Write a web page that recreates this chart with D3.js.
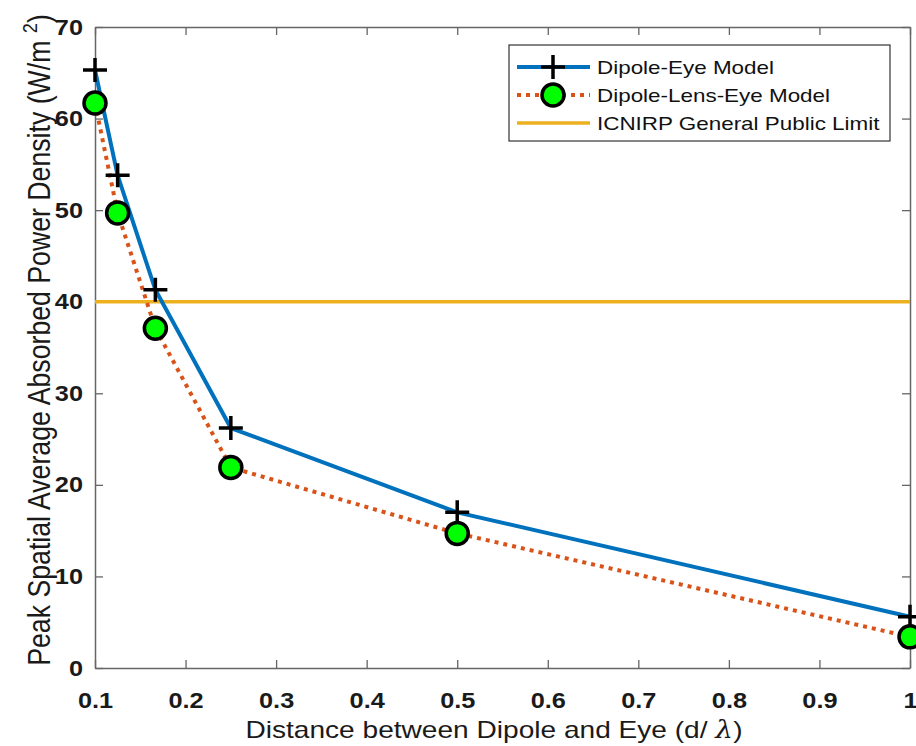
<!DOCTYPE html>
<html>
<head>
<meta charset="utf-8">
<script src="https://cdn.jsdelivr.net/npm/d3@7"></script>
<style>
  body { margin: 0; background: #fff; }
  svg { font-family: Arial, "Liberation Sans", sans-serif; }
</style>
</head>
<body>
<svg id="chart"></svg>
<script>
// Data
const distances = [0.1, 0.125, 1 / 6, 0.25, 0.5, 1];
const dipoleEye = [65.3, 53.8, 41.3, 26.2, 17.0, 5.6];
const dipoleLensEye = [61.7, 49.7, 37.1, 21.9, 14.7, 3.4];
const icnirpLimit = 40;
const xTicks = [0.1, 0.2, 0.3, 0.4, 0.5, 0.6, 0.7, 0.8, 0.9, 1];
const yTicks = [0, 10, 20, 30, 40, 50, 60, 70];
const legendLabels = ['Dipole-Eye Model', 'Dipole-Lens-Eye Model', 'ICNIRP General Public Limit'];

const width = 916;
const height = 746;
const margin = { top: 27, right: 6, bottom: 78, left: 95 };

// the original picture is a bit wider than tall, so text looks stretched
const stretch = 1.22;

const svg = d3.select('#chart')
  .attr('width', width)
  .attr('height', height);

const x = d3.scaleLinear().domain([0.1, 1]).range([margin.left, width - margin.right]);
const y = d3.scaleLinear().domain([0, 70]).range([height - margin.bottom, margin.top]);

const axisColor = '#666';
const tickLen = 8;

function widen(sel, k) {
  sel.each(function () {
    const w = this.getComputedTextLength();
    d3.select(this).attr('textLength', w * k).attr('lengthAdjust', 'spacingAndGlyphs');
  });
}

// Axes (ticks inward, box all around)
const xAxis = d3.axisBottom(x).tickValues(xTicks).tickSizeInner(-tickLen).tickSizeOuter(0)
  .tickFormat(d => d === 1 ? '1' : d3.format('.1f')(d));
const yAxis = d3.axisLeft(y).tickValues(yTicks).tickSizeInner(-tickLen).tickSizeOuter(0);

const gx = svg.append('g')
  .attr('transform', `translate(0,${y(0)})`)
  .call(xAxis);
const gy = svg.append('g')
  .attr('transform', `translate(${x(0.1)},0)`)
  .call(yAxis);
svg.append('g')
  .attr('transform', `translate(0,${y(70)})`)
  .call(d3.axisTop(x).tickValues(xTicks).tickSizeInner(-tickLen).tickSizeOuter(0).tickFormat(''));
svg.append('g')
  .attr('transform', `translate(${x(1)},0)`)
  .call(d3.axisRight(y).tickValues(yTicks).tickSizeInner(-tickLen).tickSizeOuter(0).tickFormat(''));

svg.selectAll('.domain').attr('stroke', axisColor).attr('stroke-width', 1.5);
svg.selectAll('.tick line').attr('stroke', axisColor).attr('stroke-width', 1.3);

gx.selectAll('text')
  .attr('y', 40)
  .attr('dy', 0)
  .style('font-size', '22px')
  .style('font-weight', 'bold')
  .attr('fill', '#1a1a1a')
  .call(widen, 1.15);
gy.selectAll('text')
  .attr('x', -12)
  .style('font-size', '22px')
  .style('font-weight', 'bold')
  .attr('fill', '#1a1a1a')
  .call(widen, 1.15);

// Axis labels
const xLabel = svg.append('text')
  .attr('x', 494)
  .attr('y', 738)
  .attr('text-anchor', 'middle')
  .style('font-size', '24px')
  .attr('fill', '#1a1a1a');
xLabel.append('tspan').text('Distance between Dipole and Eye (d/ ');
xLabel.append('tspan').attr('font-family', 'DejaVu Serif, serif').attr('font-style', 'italic').text('λ');
xLabel.append('tspan').text(')');
xLabel.call(widen, 1.17);

const yLabel = svg.append('text')
  .attr('text-anchor', 'middle')
  .style('font-size', '25px')
  .attr('fill', '#1a1a1a');
yLabel.append('tspan').text('Peak Spatial Average Absorbed Power Density (W/m ');
yLabel.append('tspan').attr('dy', -11).style('font-size', '17px').text('2');
yLabel.append('tspan').attr('dy', 11).text(')');
// fit the label along the axis height of the original
const yLabelLen = yLabel.node().getBBox().width;
yLabel.attr('transform', `translate(50,340) rotate(-90) scale(${652 / yLabelLen},${stretch})`);

// ICNIRP limit
svg.append('line')
  .attr('x1', x(0.1)).attr('x2', x(1))
  .attr('y1', y(icnirpLimit)).attr('y2', y(icnirpLimit))
  .attr('stroke', '#EDB120')
  .attr('stroke-width', 3.5);

const line = d3.line().x(d => x(d[0])).y(d => y(d[1]));
const eyePts = distances.map((d, i) => [d, dipoleEye[i]]);
const lensPts = distances.map((d, i) => [d, dipoleLensEye[i]]);

svg.append('path')
  .datum(eyePts)
  .attr('d', line)
  .attr('fill', 'none')
  .attr('stroke', '#0072BD')
  .attr('stroke-width', 4);

svg.append('path')
  .datum(lensPts)
  .attr('d', line)
  .attr('fill', 'none')
  .attr('stroke', '#D95319')
  .attr('stroke-width', 4)
  .attr('stroke-dasharray', '4,5');

// Plus markers
const plusSize = 12;
const plusPath = `M${-plusSize},0H${plusSize}M0,${-plusSize}V${plusSize}`;
svg.selectAll('.plus')
  .data(eyePts)
  .join('path')
  .attr('class', 'plus')
  .attr('transform', d => `translate(${x(d[0])},${y(d[1])})`)
  .attr('d', plusPath)
  .attr('stroke', '#000')
  .attr('stroke-width', 3.5)
  .attr('fill', 'none');

// Circle markers
svg.selectAll('.circ')
  .data(lensPts)
  .join('circle')
  .attr('class', 'circ')
  .attr('cx', d => x(d[0]))
  .attr('cy', d => y(d[1]))
  .attr('r', 11)
  .attr('fill', '#00FF00')
  .attr('stroke', '#000')
  .attr('stroke-width', 3.5);

// Legend
const legend = svg.append('g').attr('transform', 'translate(509,45)');
legend.append('rect')
  .attr('width', 381).attr('height', 96)
  .attr('fill', '#fff')
  .attr('stroke', '#333')
  .attr('stroke-width', 1.2);

const rowY = [22, 50, 78];
const sx0 = 8, sx1 = 81, sxm = 44;
// row 1
legend.append('line').attr('x1', sx0).attr('x2', sx1).attr('y1', rowY[0]).attr('y2', rowY[0])
  .attr('stroke', '#0072BD').attr('stroke-width', 4);
legend.append('path').attr('transform', `translate(${sxm},${rowY[0]})`).attr('d', plusPath)
  .attr('stroke', '#000').attr('stroke-width', 3.5).attr('fill', 'none');
// row 2
legend.append('line').attr('x1', sx0).attr('x2', sx1).attr('y1', rowY[1]).attr('y2', rowY[1])
  .attr('stroke', '#D95319').attr('stroke-width', 4).attr('stroke-dasharray', '4,5');
legend.append('circle').attr('cx', sxm).attr('cy', rowY[1]).attr('r', 11)
  .attr('fill', '#00FF00').attr('stroke', '#000').attr('stroke-width', 3.5);
// row 3
legend.append('line').attr('x1', sx0).attr('x2', sx1).attr('y1', rowY[2]).attr('y2', rowY[2])
  .attr('stroke', '#EDB120').attr('stroke-width', 3.5);

legend.selectAll('.lbl')
  .data(legendLabels)
  .join('text')
  .attr('class', 'lbl')
  .attr('x', 88)
  .attr('y', (d, i) => rowY[i])
  .attr('dy', '0.36em')
  .style('font-size', '19px')
  .attr('fill', '#111')
  .text(d => d)
  .call(widen, 1.18);
</script>
</body>
</html>
